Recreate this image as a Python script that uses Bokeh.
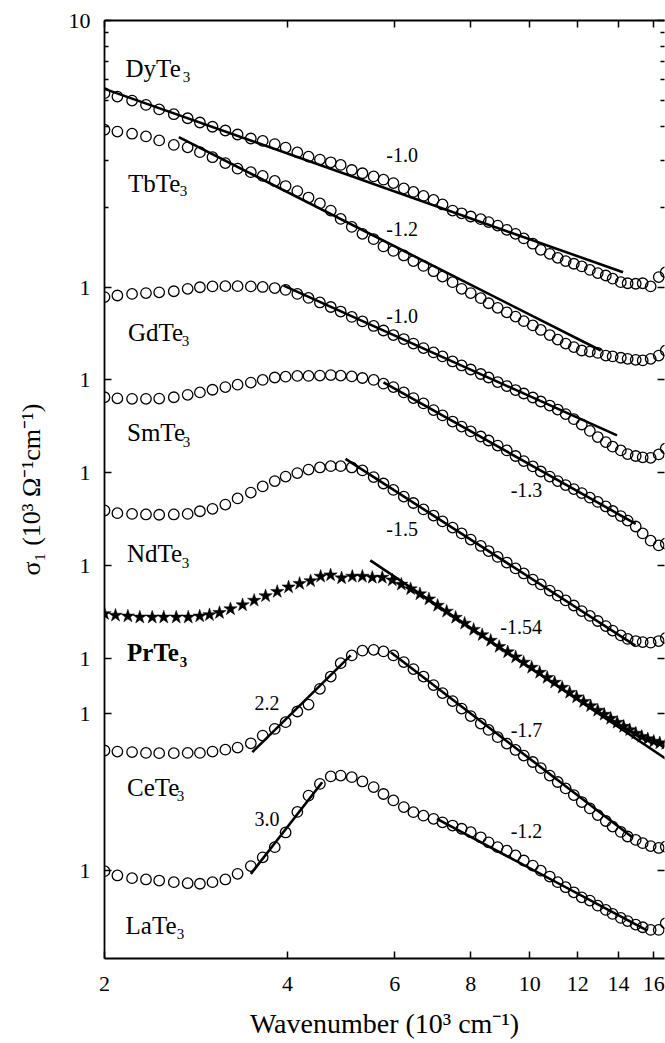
import numpy as np
from bokeh.plotting import figure
from bokeh.models import Range1d, LogAxis, FixedTicker, CustomJSTickFormatter
from bokeh.core.properties import value
from bokeh.embed import file_html
from bokeh.resources import INLINE

# ---------------- data (x in 10^3 cm^-1; sigma_1 stored as log10 of the plotted, offset value) -------------
wavenumber = [2.00, 2.10, 2.22, 2.34, 2.46, 2.60, 2.74, 2.87, 3.01, 3.16, 3.31, 3.48, 3.64, 3.81, 3.97,
              4.15, 4.33, 4.52, 4.71, 4.89, 5.10, 5.31, 5.54, 5.75, 5.97, 6.21, 6.44, 6.69, 6.95, 7.19,
              7.47, 7.73, 8.00, 8.31, 8.56, 8.86, 9.17, 9.48, 9.78, 10.12, 10.43, 10.79, 11.12, 11.46,
              11.82, 12.18, 12.56, 12.94, 13.34, 13.69, 14.12, 14.49, 14.94, 15.34, 15.81, 16.30, 16.74]

dyte3_log = [0.728, 0.715, 0.700, 0.684, 0.667, 0.649, 0.634, 0.618, 0.602, 0.588,
             0.573, 0.558, 0.549, 0.537, 0.524, 0.506, 0.490, 0.479, 0.469, 0.459,
             0.440, 0.428, 0.416, 0.404, 0.391, 0.371, 0.358, 0.343, 0.328, 0.311,
             0.288, 0.278, 0.266, 0.256, 0.245, 0.232, 0.216, 0.201, 0.184, 0.164,
             0.141, 0.126, 0.111, 0.099, 0.089, 0.079, 0.066, 0.054, 0.045, 0.033,
             0.020, 0.016, 0.014, 0.016, 0.004, 0.039, 0.057]
tbte3_log = [0.591, 0.584, 0.576, 0.566, 0.551, 0.534, 0.525, 0.507, 0.488, 0.466,
             0.445, 0.432, 0.418, 0.399, 0.380, 0.361, 0.337, 0.315, 0.288, 0.257,
             0.227, 0.201, 0.181, 0.154, 0.137, 0.120, 0.099, 0.081, 0.061, 0.041,
             0.020, -0.005, -0.021, -0.040, -0.059, -0.076, -0.093, -0.109, -0.126, -0.142,
             -0.159, -0.178, -0.195, -0.210, -0.223, -0.236, -0.240, -0.245, -0.255, -0.258,
             -0.263, -0.267, -0.271, -0.273, -0.267, -0.255, -0.236]
gdte3_log = [-0.036, -0.030, -0.024, -0.021, -0.018, -0.014, -0.005, 0.001, 0.004, 0.005,
             0.005, 0.004, 0.002, -0.002, -0.009, -0.024, -0.039, -0.056, -0.073, -0.090,
             -0.110, -0.127, -0.144, -0.161, -0.178, -0.193, -0.210, -0.227, -0.243, -0.258,
             -0.277, -0.292, -0.307, -0.324, -0.337, -0.354, -0.369, -0.384, -0.397, -0.412,
             -0.427, -0.442, -0.457, -0.474, -0.493, -0.513, -0.537, -0.560, -0.579, -0.596,
             -0.610, -0.624, -0.631, -0.636, -0.638, -0.625, -0.603]
smte3_log = [-0.411, -0.415, -0.417, -0.417, -0.416, -0.411, -0.402, -0.393, -0.383, -0.373,
             -0.364, -0.356, -0.346, -0.337, -0.334, -0.331, -0.331, -0.330, -0.328, -0.330,
             -0.333, -0.339, -0.346, -0.360, -0.373, -0.393, -0.414, -0.434, -0.459, -0.479,
             -0.502, -0.521, -0.539, -0.558, -0.573, -0.592, -0.610, -0.631, -0.650, -0.670,
             -0.689, -0.708, -0.725, -0.740, -0.755, -0.770, -0.787, -0.803, -0.820, -0.837,
             -0.856, -0.873, -0.895, -0.921, -0.948, -0.966, -0.959]
ndte3_log = [-0.835, -0.845, -0.848, -0.850, -0.851, -0.850, -0.848, -0.838, -0.829, -0.813,
             -0.790, -0.768, -0.745, -0.725, -0.708, -0.695, -0.682, -0.674, -0.669, -0.669,
             -0.674, -0.685, -0.710, -0.734, -0.758, -0.783, -0.807, -0.831, -0.854, -0.876,
             -0.899, -0.921, -0.944, -0.968, -0.987, -1.009, -1.030, -1.052, -1.071, -1.094,
             -1.112, -1.135, -1.154, -1.172, -1.191, -1.212, -1.230, -1.249, -1.268, -1.285,
             -1.303, -1.316, -1.324, -1.328, -1.330, -1.324, -1.313]
cete3_log = [-1.734, -1.738, -1.740, -1.743, -1.744, -1.744, -1.743, -1.743, -1.738, -1.731,
             -1.723, -1.707, -1.678, -1.653, -1.628, -1.588, -1.562, -1.503, -1.457, -1.407,
             -1.378, -1.360, -1.357, -1.363, -1.378, -1.403, -1.429, -1.457, -1.489, -1.519,
             -1.549, -1.577, -1.605, -1.633, -1.657, -1.684, -1.708, -1.732, -1.753, -1.777,
             -1.800, -1.828, -1.852, -1.876, -1.901, -1.927, -1.951, -1.976, -1.998, -2.019,
             -2.039, -2.056, -2.069, -2.081, -2.092, -2.099, -2.094]
late3_log = [-2.186, -2.202, -2.212, -2.217, -2.221, -2.227, -2.231, -2.233, -2.227, -2.217,
             -2.196, -2.167, -2.134, -2.096, -2.041, -1.964, -1.903, -1.859, -1.831, -1.828,
             -1.834, -1.850, -1.871, -1.897, -1.921, -1.946, -1.965, -1.978, -1.990, -2.003,
             -2.015, -2.027, -2.040, -2.059, -2.078, -2.096, -2.109, -2.127, -2.146, -2.165,
             -2.184, -2.206, -2.227, -2.246, -2.265, -2.284, -2.296, -2.315, -2.331, -2.346,
             -2.361, -2.373, -2.386, -2.396, -2.406, -2.406, -2.381]

star_wavenumber = [2.00, 2.085, 2.185, 2.286, 2.396, 2.503, 2.624, 2.746, 2.868, 2.976, 3.091,
                   3.222, 3.373, 3.524, 3.680, 3.846, 4.015, 4.186, 4.364, 4.533, 4.707,
                   4.907, 5.110, 5.308, 5.512, 5.724, 5.946, 6.152, 6.373, 6.601, 6.830,
                   7.059, 7.304, 7.557, 7.819, 8.090, 8.355, 8.629, 8.910, 9.202, 9.485,
                   9.776, 10.077, 10.386, 10.685, 10.992, 11.310, 11.635, 11.947, 12.268, 12.597,
                   12.939, 13.260, 13.591, 13.929, 14.276, 14.606, 14.943, 15.285, 15.637, 15.997,
                   16.364, 16.741]
prte3_log = [-1.222, -1.228, -1.231, -1.235, -1.235, -1.235, -1.235, -1.235, -1.231, -1.226, -1.218,
             -1.204, -1.189, -1.172, -1.155, -1.139, -1.122, -1.109, -1.099, -1.082, -1.077,
             -1.088, -1.082, -1.082, -1.086, -1.086, -1.096, -1.112, -1.129, -1.148, -1.167,
             -1.191, -1.213, -1.236, -1.258, -1.281, -1.301, -1.322, -1.345, -1.365, -1.384,
             -1.404, -1.423, -1.442, -1.461, -1.479, -1.498, -1.517, -1.534, -1.551, -1.567,
             -1.584, -1.599, -1.614, -1.629, -1.644, -1.657, -1.670, -1.682, -1.691, -1.700,
             -1.706, -1.708]

# power-law fits: start / end wavenumber and log10 values
fit_x0 = [2.00, 2.65, 3.94, 5.75, 4.98, 5.47, 3.50, 5.91, 3.48, 7.04]
fit_x1 = [14.24, 13.09, 13.92, 14.94, 14.92, 16.74, 5.08, 14.77, 4.56, 15.59]
fit_l0 = [0.744, 0.563, 0.007, -0.355, -0.642, -1.022, -1.740, -1.366, -2.196, -1.990]
fit_l1 = [0.057, -0.236, -0.554, -0.885, -1.341, -1.765, -1.378, -2.060, -1.853, -2.408]

# exponents written next to the fits
exp_text = ["-1.0", "-1.2", "-1.0", "-1.3", "-1.5", "-1.54", "2.2", "-1.7", "3.0", "-1.2"]
exp_x = [6.17, 6.17, 6.17, 9.88, 6.17, 9.68, 3.70, 9.88, 3.70, 9.88]
exp_l = [0.498, 0.220, -0.105, -0.758, -0.904, -1.272, -1.557, -1.659, -1.990, -2.037]

# compound names
names = ["DyTe", "TbTe", "GdTe", "SmTe", "NdTe", "PrTe", "CeTe", "LaTe"]
name_x = [2.166, 2.186, 2.186, 2.178, 2.178, 2.178, 2.178, 2.166]
name_l = [0.820, 0.390, -0.169, -0.543, -0.996, -1.367, -1.873, -2.390]
sub_x = [2.690, 2.660, 2.680, 2.690, 2.680, 2.660, 2.630, 2.630]
sub_l = [0.787, 0.360, -0.199, -0.577, -1.030, -1.401, -1.906, -2.423]

y_tick_l = [-2.5131, -2.1835, -1.5955, -1.3895, -1.0412, -0.6929, -0.3446, 0.0, 1.0]
y_minor = [2, 3, 4, 5, 6, 7, 8, 9]
x_ticks = [2, 4, 6, 8, 10, 12, 14, 16]

# ---------------- figure ----------------
SERIF = "Liberation Serif"

p = figure(width=665, height=1043, x_axis_type="log", y_axis_type="log",
           x_range=Range1d(2, 16.66), y_range=Range1d(10 ** -2.513, 10),
           output_backend="svg", toolbar_location=None,
           min_border_left=104, min_border_right=1, min_border_top=20, min_border_bottom=85)
p.outline_line_color = None
p.xgrid.visible = False
p.ygrid.visible = False
p.background_fill_color = "white"
p.border_fill_color = "white"

yt = FixedTicker(ticks=list(10 ** np.array(y_tick_l)), minor_ticks=y_minor)
xt = FixedTicker(ticks=x_ticks, minor_ticks=[])


def style_axis(ax):
    ax.axis_line_width = 1.8
    ax.axis_line_color = "black"
    ax.major_tick_in = 7
    ax.major_tick_out = 0
    ax.minor_tick_in = 4
    ax.minor_tick_out = 0
    ax.major_tick_line_width = 1.5
    ax.minor_tick_line_width = 1.3
    ax.major_label_text_font = SERIF
    ax.major_label_text_font_size = "22px"
    ax.major_label_text_color = "black"
    ax.axis_label_text_font = SERIF
    ax.axis_label_text_font_size = "28px"
    ax.axis_label_text_font_style = "normal"
    ax.axis_label_text_color = "black"


xa = p.xaxis[0]
xa.ticker = xt
xa.formatter = CustomJSTickFormatter(code="return Math.round(tick).toString();")
style_axis(xa)
xa.major_label_standoff = 18
xa.axis_label = "Wavenumber (10³ cm⁻¹)"
xa.axis_label_standoff = 14

ya = p.yaxis[0]
ya.ticker = yt
ya.formatter = CustomJSTickFormatter(code="return tick > 5 ? '10' : '1';")
style_axis(ya)
ya.major_label_standoff = 14
ya.axis_label = "σ₁ (10³ Ω⁻¹cm⁻¹)"
ya.axis_label_text_font_size = "26px"
ya.axis_label_standoff = 20

top = LogAxis(ticker=xt, formatter=CustomJSTickFormatter(code="return '';"))
style_axis(top)
top.major_label_standoff = 0
top.major_label_text_font_size = "0px"
p.add_layout(top, "above")

right = LogAxis(ticker=yt, formatter=CustomJSTickFormatter(code="return '';"))
style_axis(right)
right.axis_line_color = None
right.major_label_standoff = 0
right.major_label_text_font_size = "0px"
p.add_layout(right, "right")

# ---------------- curves ----------------
for series in [dyte3_log, tbte3_log, gdte3_log, smte3_log, ndte3_log, cete3_log, late3_log]:
    p.scatter(wavenumber, 10 ** np.array(series), marker="circle", size=10.5,
              fill_color=None, line_color="black", line_width=1.3)

p.scatter(star_wavenumber, 10 ** np.array(prte3_log), marker="star", size=14,
          fill_color="black", line_color="black", line_width=0.5)

p.segment(x0=fit_x0, y0=list(10 ** np.array(fit_l0)), x1=fit_x1, y1=list(10 ** np.array(fit_l1)),
          line_color="black", line_width=2.6)

p.text(x=exp_x, y=list(10 ** np.array(exp_l)), text=exp_text,
       text_font=value(SERIF), text_font_size=value("20px"), text_color="black",
       text_align="center", text_baseline="middle")

normal = [i for i, n in enumerate(names) if n != "PrTe"]
bold = [i for i, n in enumerate(names) if n == "PrTe"]
for idx, style in [(normal, "normal"), (bold, "bold")]:
    p.text(x=[name_x[i] for i in idx], y=[10 ** name_l[i] for i in idx], text=[names[i] for i in idx],
           text_font=value(SERIF), text_font_size=value("25px"), text_font_style=style,
           text_color="black", text_align="left", text_baseline="alphabetic")
    p.text(x=[sub_x[i] for i in idx], y=[10 ** sub_l[i] for i in idx], text=["3" for _ in idx],
           text_font=value(SERIF), text_font_size=value("15px"), text_font_style=style,
           text_color="black", text_align="left", text_baseline="alphabetic")

open("out.html", "w").write(file_html(p, INLINE))
